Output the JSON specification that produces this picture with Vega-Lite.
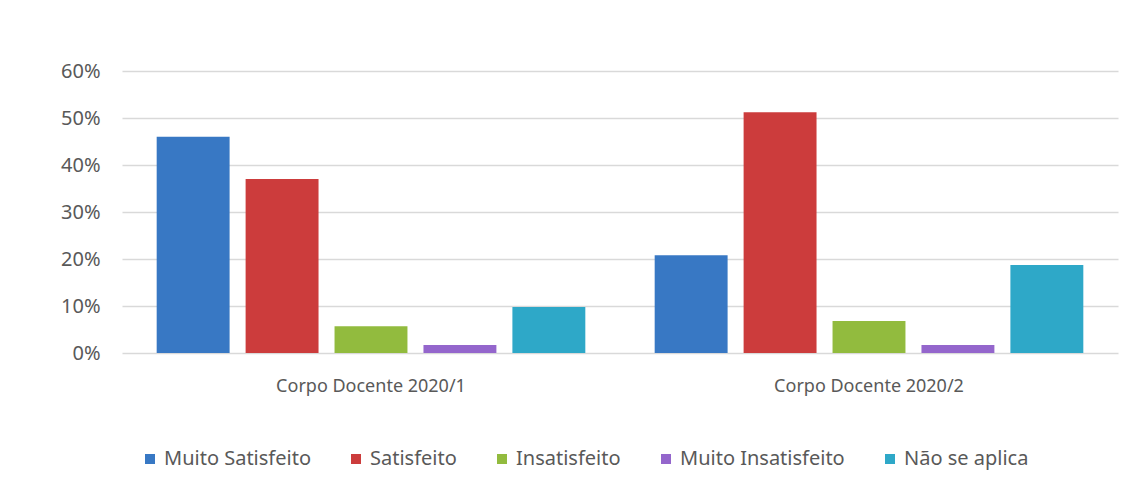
{
  "$schema": "https://vega.github.io/schema/vega-lite/v6.json",
  "autosize": "none",
  "width": 996,
  "height": 282,
  "padding": {"left": 122, "top": 71, "right": 26, "bottom": 136},
  "background": "white",
  "data": {
    "values": [
      {"grupo": "Corpo Docente 2020/1", "categoria": "Muito Satisfeito", "valor": 0.46},
      {"grupo": "Corpo Docente 2020/1", "categoria": "Satisfeito", "valor": 0.37},
      {"grupo": "Corpo Docente 2020/1", "categoria": "Insatisfeito", "valor": 0.057},
      {"grupo": "Corpo Docente 2020/1", "categoria": "Muito Insatisfeito", "valor": 0.017},
      {"grupo": "Corpo Docente 2020/1", "categoria": "Não se aplica", "valor": 0.098},
      {"grupo": "Corpo Docente 2020/2", "categoria": "Muito Satisfeito", "valor": 0.208},
      {"grupo": "Corpo Docente 2020/2", "categoria": "Satisfeito", "valor": 0.512},
      {"grupo": "Corpo Docente 2020/2", "categoria": "Insatisfeito", "valor": 0.068},
      {"grupo": "Corpo Docente 2020/2", "categoria": "Muito Insatisfeito", "valor": 0.017},
      {"grupo": "Corpo Docente 2020/2", "categoria": "Não se aplica", "valor": 0.187}
    ]
  },
  "mark": {"type": "bar", "stroke": null},
  "encoding": {
    "x": {
      "field": "grupo",
      "type": "nominal",
      "scale": {"paddingInner": 0, "paddingOuter": 0},
      "axis": {
        "title": null,
        "labelAngle": 0,
        "ticks": false,
        "domain": false,
        "labelPadding": 24,
        "labelFontSize": 18,
        "labelLimit": 400,
        "labelFont": "Noto Sans",
        "labelColor": "#595959"
      }
    },
    "xOffset": {
      "field": "categoria",
      "type": "nominal",
      "sort": ["Muito Satisfeito", "Satisfeito", "Insatisfeito", "Muito Insatisfeito", "Não se aplica"],
      "scale": {"paddingInner": 0.18, "paddingOuter": 0.39}
    },
    "y": {
      "field": "valor",
      "type": "quantitative",
      "scale": {"domain": [0, 0.6], "nice": false},
      "axis": {
        "title": null,
        "values": [0, 0.1, 0.2, 0.3, 0.4, 0.5, 0.6],
        "format": ".0%",
        "ticks": false,
        "domain": false,
        "labelPadding": 22,
        "labelFontSize": 20,
        "labelFont": "Noto Sans",
        "labelColor": "#595959",
        "gridColor": "#d9d9d9",
        "gridWidth": 1.5
      }
    },
    "color": {
      "field": "categoria",
      "type": "nominal",
      "sort": ["Muito Satisfeito", "Satisfeito", "Insatisfeito", "Muito Insatisfeito", "Não se aplica"],
      "scale": {
        "domain": ["Muito Satisfeito", "Satisfeito", "Insatisfeito", "Muito Insatisfeito", "Não se aplica"],
        "range": ["#3878c4", "#cc3c3c", "#92bb3e", "#9466cc", "#2ea8c8"]
      },
      "legend": {
        "title": null,
        "orient": "none",
        "direction": "horizontal",
        "legendX": 18,
        "legendY": 378,
        "symbolType": "square",
        "symbolSize": 100,
        "symbolStrokeWidth": 0,
        "labelFontSize": 20,
        "labelLimit": 400,
        "labelFont": "Noto Sans",
        "labelColor": "#595959",
        "labelOffset": 4,
        "columnPadding": 35
      }
    }
  },
  "config": {
    "view": {"stroke": null}
  }
}
